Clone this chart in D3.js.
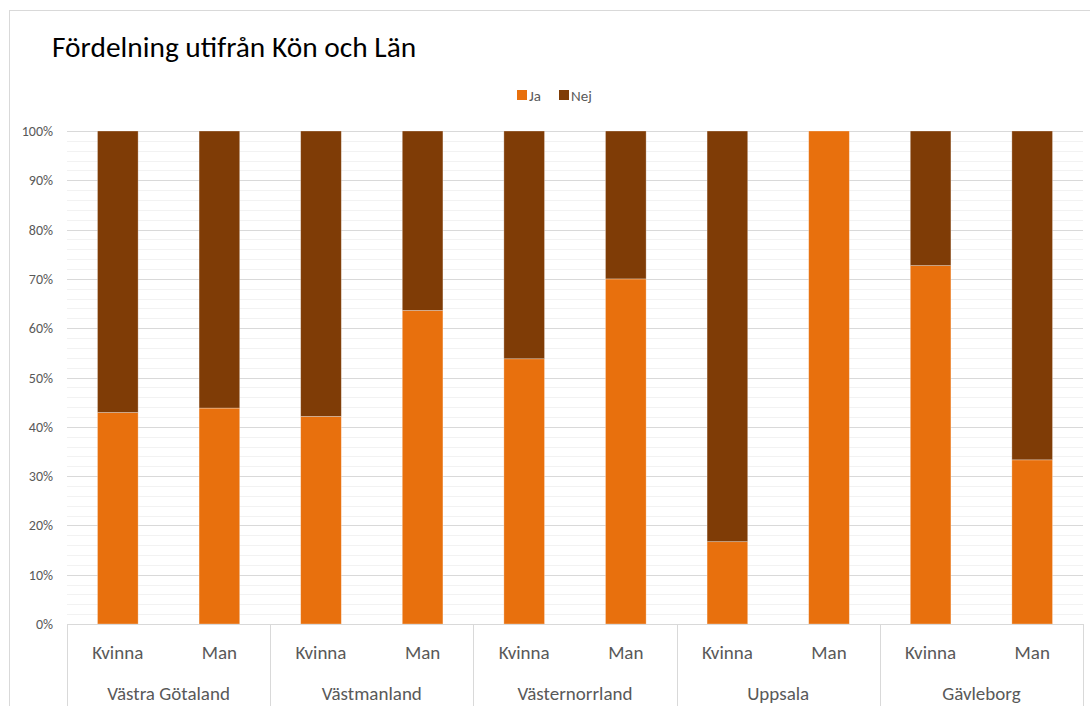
<!DOCTYPE html>
<html>
<head>
<meta charset="utf-8">
<script src="https://cdn.jsdelivr.net/npm/d3@7"></script>
<style>
  body { margin: 0; background: #fff; }
  svg { font-family: Carlito, "Open Sans", "Noto Sans", sans-serif; }
</style>
</head>
<body>
<div id="chart"></div>
<script>
var lan = ["Västra Götaland", "Västmanland", "Västernorrland", "Uppsala", "Gävleborg"];
var kon = ["Kvinna", "Man"];
// Ja-andel per län och kön (Kvinna, Man), i procent
var ja = [42.9, 43.8, 42.1, 63.6, 53.8, 70.0, 16.7, 100, 72.7, 33.3];
var nej = ja.map(function(v) { return 100 - v; });
var yTicks = [0, 10, 20, 30, 40, 50, 60, 70, 80, 90, 100];

var w = 1090, h = 706;
var plotLeft = 67, plotRight = 1083, plotTop = 131, plotBottom = 624;
var colorJa = "#e8700d", colorNej = "#7f3c06";

var svg = d3.select("#chart").append("svg")
    .attr("width", w).attr("height", h);

// outer chart frame
svg.append("rect")
    .attr("x", 9.5).attr("y", 10.5)
    .attr("width", 1200).attr("height", 800)
    .attr("fill", "#fff").attr("stroke", "#d9d9d9");

svg.append("text")
    .attr("x", 52).attr("y", 57)
    .attr("font-size", 29.4).attr("fill", "#000")
    .text("Fördelning utifrån Kön och Län");

// legend
var legend = svg.append("g").attr("transform", "translate(517,88)");
[["Ja", colorJa, 0], ["Nej", colorNej, 42]].forEach(function(d) {
    legend.append("rect").attr("x", d[2]).attr("y", 2).attr("width", 10).attr("height", 10).attr("fill", d[1]);
    legend.append("text").attr("x", d[2] + 12).attr("y", 12.5)
        .attr("font-size", 15).attr("fill", "#595959").text(d[0]);
});

var bars = [];
lan.forEach(function(l, i) {
    kon.forEach(function(k, j) {
        var idx = i * 2 + j;
        bars.push({ lan: l, kon: k, key: l + "|" + k, ja: ja[idx], nej: nej[idx] });
    });
});

var x = d3.scaleBand().domain(bars.map(function(d) { return d.key; }))
    .range([plotLeft, plotRight]).paddingInner(0.6).paddingOuter(0.3);
var xg = d3.scaleBand().domain(lan).range([plotLeft, plotRight]);
var y = d3.scaleLinear().domain([0, 100]).range([plotBottom, plotTop]);

// minor gridlines every 2%
svg.append("g").selectAll("line")
    .data(d3.range(0, 101, 2).filter(function(v) { return v % 10 != 0; }))
    .enter().append("line")
    .attr("x1", plotLeft).attr("x2", plotRight)
    .attr("y1", function(d) { return Math.round(y(d)) + 0.5; })
    .attr("y2", function(d) { return Math.round(y(d)) + 0.5; })
    .attr("stroke", "#f2f2f2");

// major gridlines + labels
svg.append("g").selectAll("line")
    .data(yTicks).enter().append("line")
    .attr("x1", plotLeft).attr("x2", plotRight)
    .attr("y1", function(d) { return Math.round(y(d)) + 0.5; })
    .attr("y2", function(d) { return Math.round(y(d)) + 0.5; })
    .attr("stroke", "#d9d9d9");

svg.append("g").selectAll("text")
    .data(yTicks).enter().append("text")
    .attr("x", 53).attr("y", function(d) { return y(d) + 5; })
    .attr("text-anchor", "end").attr("font-size", 14).attr("fill", "#595959")
    .text(function(d) { return d + "%"; });

// stacked bars
var stack = d3.stack().keys(["ja", "nej"])(bars);
var colors = { ja: colorJa, nej: colorNej };
stack.forEach(function(s) {
    svg.append("g").selectAll("rect")
        .data(s).enter().append("rect")
        .attr("x", function(d) { return x(d.data.key); })
        .attr("width", x.bandwidth())
        .attr("y", function(d) { return y(d[1]); })
        .attr("height", function(d) { return y(d[0]) - y(d[1]); })
        .attr("fill", colors[s.key])
        .attr("stroke", "#fff").attr("stroke-opacity", 0.4).attr("stroke-width", 0.75);
});

// category axis
svg.append("line").attr("x1", plotLeft).attr("x2", plotRight)
    .attr("y1", plotBottom + 0.5).attr("y2", plotBottom + 0.5).attr("stroke", "#d9d9d9");
svg.append("g").selectAll("line")
    .data(lan.concat(["end"])).enter().append("line")
    .attr("x1", function(d, i) { return Math.round(i < lan.length ? xg(d) : plotRight) + 0.5; })
    .attr("x2", function(d, i) { return Math.round(i < lan.length ? xg(d) : plotRight) + 0.5; })
    .attr("y1", plotBottom).attr("y2", h)
    .attr("stroke", "#d9d9d9");

svg.append("g").selectAll("text")
    .data(bars).enter().append("text")
    .attr("x", function(d) { return x(d.key) + x.bandwidth() / 2; })
    .attr("y", 659).attr("text-anchor", "middle")
    .attr("font-size", 19).attr("fill", "#595959")
    .text(function(d) { return d.kon; });

svg.append("g").selectAll("text")
    .data(lan).enter().append("text")
    .attr("x", function(d) { return xg(d) + xg.bandwidth() / 2; })
    .attr("y", 700).attr("text-anchor", "middle")
    .attr("font-size", 19).attr("fill", "#595959")
    .text(function(d) { return d; });
</script>
</body>
</html>
